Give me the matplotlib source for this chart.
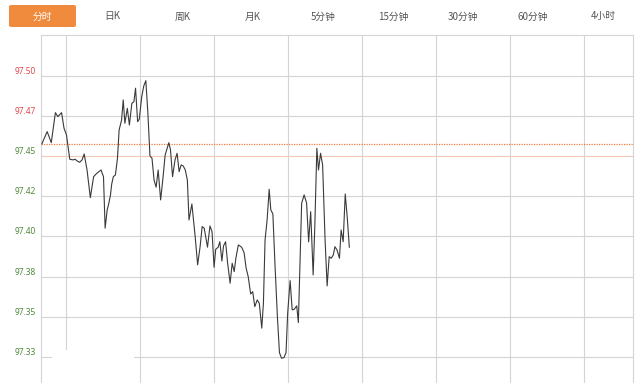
import numpy as np
import matplotlib
matplotlib.use('Agg')
import matplotlib.pyplot as plt
from matplotlib.patches import FancyBboxPatch, Rectangle

plt.rcParams['font.family'] = ['Noto Sans CJK SC', 'DejaVu Sans']

# ------------------- data -------------------
tabs = ['分时', '日K', '周K', '月K', '5分钟', '15分钟', '30分钟', '60分钟', '4小时']

# minutes since session open
minutes = [2, 15, 25, 35, 41, 50, 56, 62, 70, 78, 83, 88, 94, 100, 105, 112, 120, 128,
           136, 146, 152, 156, 161, 165, 169, 172, 176, 181, 186, 190, 196, 200, 204,
           210, 215, 221, 226, 230, 235, 239, 245, 250, 255, 260, 265, 270, 275, 280,
           285, 291, 297, 302, 311, 315, 320, 326, 331, 336, 341, 346, 351, 356, 360,
           367, 375, 381, 387, 392, 397, 405, 411, 416, 421, 425, 431, 435, 440, 444,
           449, 454, 460, 465, 470, 474, 480, 488, 494, 499, 504, 510, 515, 520, 526,
           531, 537, 541, 545, 550, 555, 559, 564, 569, 575, 580, 585, 591, 596, 600,
           606, 611, 616, 622, 626, 630, 634, 640, 646, 651, 656, 662, 666, 671, 675,
           680, 685, 691, 696, 701, 706, 711, 715, 720, 726, 730, 735, 740, 745, 750]
price = [97.4575, 97.4652, 97.4583, 97.4770, 97.4745, 97.4770, 97.4673, 97.4631,
         97.4480, 97.4476, 97.4480, 97.4469, 97.4461, 97.4476, 97.4513, 97.4413,
         97.4241, 97.4372, 97.4393, 97.4413, 97.4372, 97.4051, 97.4165, 97.4206,
         97.4258, 97.4326, 97.4372, 97.4382, 97.4486, 97.4662, 97.4724, 97.4849,
         97.4704, 97.4797, 97.4693, 97.4828, 97.4838, 97.4922, 97.4714, 97.4729,
         97.4869, 97.4936, 97.4969, 97.4766, 97.4501, 97.4486, 97.4351, 97.4306,
         97.4413, 97.4227, 97.4372, 97.4507, 97.4583, 97.4538, 97.4372, 97.4476,
         97.4517, 97.4403, 97.4445, 97.4438, 97.4413, 97.4351, 97.4102, 97.4202,
         97.3999, 97.3823, 97.3936, 97.4061, 97.4051, 97.3933, 97.4065, 97.4030,
         97.3808, 97.3920, 97.3933, 97.3967, 97.3847, 97.3941, 97.3967, 97.3833,
         97.3709, 97.3833, 97.3781, 97.3864, 97.3947, 97.3933, 97.3899, 97.3802,
         97.3750, 97.3642, 97.3656, 97.3563, 97.3605, 97.3584, 97.3429, 97.3584,
         97.3978, 97.4102, 97.4293, 97.4165, 97.4140, 97.3833, 97.3501, 97.3277,
         97.3242, 97.3246, 97.3277, 97.3522, 97.3725, 97.3543, 97.3547, 97.3568,
         97.3464, 97.3833, 97.4206, 97.4258, 97.4208, 97.3966, 97.4154, 97.3760,
         97.4061, 97.4548, 97.4413, 97.4517, 97.4445, 97.3978, 97.3692, 97.3874,
         97.3864, 97.3885, 97.3936, 97.3916, 97.3864, 97.4040, 97.3967, 97.4264,
         97.4115, 97.3933]

prev_close = 97.4575
ytick_vals = [97.500, 97.475, 97.450, 97.425, 97.400, 97.375, 97.350, 97.325]
ytick_labels = ['97.50', '97.47', '97.45', '97.42', '97.40', '97.38', '97.35', '97.33']
xgrid = [60, 240, 420, 600, 780, 960, 1140, 1320]

### ------------------- plotting -------------------
W, H = 640, 383
fig = plt.figure(figsize=(W / 100, H / 100), dpi=100)
fig.patch.set_facecolor('white')

def fx(px):
    return px / W

def fy(py):
    return 1 - py / H

ax = fig.add_axes([fx(41), 0, fx(633) - fx(41), fy(35)])
ax.set_xlim(0, 1440)
ax.set_ylim(97.3088, 97.5253)

grid_c = '#d4d4d4'
for v in ytick_vals:
    c = '#f2c9b6' if v == 97.45 else grid_c
    ax.axhline(v, color=c, lw=0.8, zorder=1)
for v in xgrid:
    ax.axvline(v, color=grid_c, lw=0.8, zorder=1)

ax.axhline(prev_close, color='#f07a3a', lw=0.9, ls=(0, (1, 1)), zorder=2)
ax.plot(minutes, price, color='#3a3a3a', lw=0.8, zorder=3)

ax.set_xticks([])
ax.set_yticks(ytick_vals)
ax.set_yticklabels(ytick_labels, family='Noto Sans', fontsize=6)
ax.tick_params(axis='y', length=0, pad=4)
for lab, v in zip(ax.get_yticklabels(), ytick_vals):
    lab.set_color('#e0494d' if v > prev_close else '#4f8a3c')
    lab.set_va('bottom')

for side in ['left', 'right', 'top']:
    ax.spines[side].set_color(grid_c)
    ax.spines[side].set_linewidth(0.8)
ax.spines['bottom'].set_visible(False)

# blank patch over lower left corner
fig.patches.append(Rectangle((fx(52), 0), fx(134) - fx(52), fy(350), transform=fig.transFigure,
                             facecolor='white', edgecolor='none', zorder=10))

# tab bar
btn = FancyBboxPatch((fx(9), fy(27)), fx(76) - fx(9), fy(5) - fy(27),
                     boxstyle='round,pad=0,rounding_size=0.004', transform=fig.transFigure,
                     facecolor='#f08b3d', edgecolor='none')
fig.patches.append(btn)
for i, t in enumerate(tabs):
    x = 42.5 + 70.1 * i
    fig.text(fx(x), fy(16.5), t, ha='center', va='center', fontsize=7,
             color='white' if i == 0 else '#555555')

plt.savefig('out.png', dpi=100)
